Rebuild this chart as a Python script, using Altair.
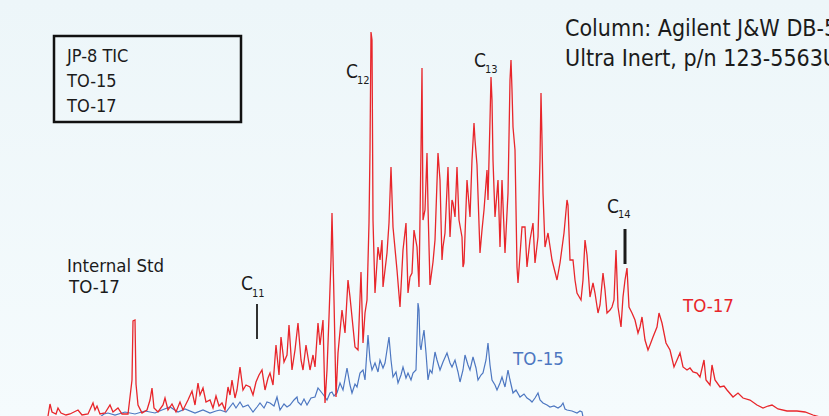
import altair as alt
import pandas as pd

# TO-17 trace (red): retention index vs abundance
red_time = [48, 50, 52, 56, 58, 61, 66, 70, 78, 82, 88, 93, 95, 97, 100, 105, 110, 113, 118, 122,
            128, 132, 133, 135, 136, 138, 142, 147, 150, 152, 154, 158, 163, 165, 168, 172, 176, 180, 183, 188,
            192, 195, 198, 200, 203, 206, 210, 213, 216, 219, 222, 225, 228, 230, 232, 235, 237, 240, 243, 246,
            250, 253, 256, 259, 262, 265, 268, 270, 273, 276, 279, 281, 284, 287, 289, 292, 295, 298, 301, 303,
            306, 310, 313, 315, 318, 320, 323, 325, 327, 329, 331, 332, 334, 336, 338, 342, 345, 348, 350, 352,
            355, 358, 361, 363, 365, 367, 369, 370, 371, 372, 373, 375, 378, 380, 382, 383, 387, 389, 391, 393,
            397, 400, 403, 406, 408, 410, 412, 414, 417, 419, 421, 422, 423, 425, 427, 428, 430, 433, 435, 438,
            440, 442, 443, 445, 448, 450, 452, 453, 455, 457, 459, 462, 463, 464, 467, 470, 472, 474, 475, 477,
            480, 482, 484, 487, 488, 490, 491, 492, 493, 495, 498, 500, 502, 505, 508, 510, 511, 512, 513, 515,
            517, 518, 522, 525, 527, 530, 533, 535, 538, 540, 541, 542, 543, 545, 548, 552, 557, 560, 564, 567,
            568, 570, 573, 575, 577, 581, 583, 585, 587, 590, 593, 595, 598, 600, 603, 605, 607, 610, 612, 614,
            616, 618, 621, 623, 625, 627, 629, 632, 635, 638, 640, 642, 645, 648, 650, 653, 657, 659, 662, 666,
            670, 674, 677, 680, 683, 687, 690, 693, 697, 700, 704, 706, 710, 712, 715, 720, 724, 727, 733, 738,
            743, 750, 757, 763, 768, 772, 778, 787, 797, 805, 813, 820]
red_abund = [0, 12, 4, 2, 8, 3, 1, 2, 6, 1, 2, 13, 6, 10, 2, 3, 11, 4, 8, 2,
             2, 36, 95, 96, 32, 11, 3, 6, 16, 28, 8, 4, 11, 18, 6, 12, 4, 14, 6, 16,
             25, 11, 33, 21, 28, 14, 16, 8, 20, 10, 13, 6, 29, 21, 36, 18, 26, 49, 26, 31,
             29, 21, 34, 41, 46, 26, 38, 43, 31, 71, 41, 79, 54, 61, 91, 46, 66, 93, 56, 46,
             71, 46, 61, 49, 93, 71, 96, 13, 46, 99, 156, 203, 116, 19, 63, 106, 83, 136, 119, 99,
             69, 66, 144, 73, 103, 116, 193, 266, 384, 376, 196, 123, 169, 156, 176, 129, 163, 193, 249, 189,
             146, 109, 166, 193, 123, 139, 143, 186, 169, 129, 266, 348, 196, 206, 263, 209, 131, 154, 176, 263,
             236, 156, 169, 183, 249, 179, 216, 213, 199, 249, 196, 179, 149, 153, 236, 199, 256, 293, 276, 251,
             163, 186, 206, 246, 216, 296, 339, 316, 256, 199, 236, 169, 236, 163, 223, 336, 356, 326, 289, 266,
             149, 133, 189, 189, 149, 176, 193, 153, 179, 256, 323, 276, 223, 169, 183, 156, 136, 153, 183, 216,
             211, 156, 156, 136, 123, 116, 136, 176, 161, 119, 133, 123, 103, 111, 143, 126, 103, 106, 109, 116,
             166, 109, 89, 119, 136, 148, 109, 103, 96, 83, 89, 99, 76, 66, 71, 79, 89, 103, 93, 73,
             66, 49, 56, 63, 49, 46, 48, 44, 43, 39, 56, 36, 31, 51, 36, 29, 30, 26, 19, 23,
             18, 16, 11, 8, 10, 11, 7, 5, 5, 4, 1, -1]

# TO-15 trace (blue)
blue_time = [100, 104, 108, 115, 125, 135, 145, 155, 162, 170, 178, 185, 195, 203, 210, 216, 220, 226, 233, 236,
             240, 243, 248, 253, 257, 260, 264, 267, 270, 274, 277, 280, 284, 287, 290, 294, 297, 298, 301, 304,
             307, 311, 315, 318, 322, 325, 327, 330, 332, 334, 337, 340, 343, 347, 350, 352, 355, 357, 360, 363,
             365, 368, 370, 372, 375, 378, 380, 383, 385, 387, 389, 391, 393, 396, 398, 401, 403, 406, 408, 411,
             413, 416, 418, 419, 420, 421, 422, 424, 426, 428, 430, 432, 435, 437, 440, 443, 447, 450, 452, 455,
             458, 460, 463, 465, 468, 470, 473, 476, 478, 481, 483, 486, 488, 490, 492, 495, 497, 500, 502, 505,
             508, 510, 513, 516, 520, 524, 527, 530, 532, 535, 538, 540, 543, 547, 550, 554, 558, 561, 563, 565,
             567, 572, 577, 580, 582, 583]
blue_abund = [-1, 2, 3, 1, 4, 2, 5, 3, 6, 9, 4, 7, 3, 6, 3, 5, 6, 4, 13, 8,
              14, 9, 11, 4, 9, 13, 8, 14, 13, 10, 19, 6, 12, 9, 11, 16, 19, 14, 11, 17,
              11, 18, 19, 28, 23, 19, 16, 23, 24, 20, 23, 33, 26, 48, 31, 23, 32, 29, 43, 46,
              36, 81, 56, 46, 53, 44, 56, 48, 53, 66, 79, 56, 39, 44, 33, 41, 49, 38, 43, 36,
              43, 46, 113, 106, 71, 66, 74, 86, 63, 36, 46, 43, 64, 56, 46, 54, 63, 53, 49, 56,
              44, 34, 46, 61, 51, 46, 59, 48, 36, 41, 43, 56, 73, 51, 36, 31, 26, 33, 39, 29,
              46, 36, 23, 26, 19, 22, 18, 16, 14, 18, 23, 16, 13, 11, 9, 10, 8, 10, 13, 7,
              6, 5, 3, 5, 4, -1]

legend_lines = ["JP-8 TIC", "TO-15", "TO-17"]
column_lines = ["Column: Agilent J&W DB-5ms", "Ultra Inert, p/n 123-5563UI"]

FONT = "DejaVu Sans Condensed, Liberation Sans Narrow, Arial Narrow, sans-serif"
RED = "#e8262b"
BLUE = "#4d77c1"
INK = "#1b1b1b"

red_df = pd.DataFrame({"time": red_time, "abundance": red_abund})
blue_df = pd.DataFrame({"time": blue_time, "abundance": blue_abund})

xs = alt.Scale(domain=[0, 829], nice=False, zero=False)
ys = alt.Scale(domain=[0, 416], nice=False, zero=False)


def trace(df, color, width):
    return alt.Chart(df).mark_line(color=color, strokeWidth=width, clip=True, interpolate="linear").encode(
        x=alt.X("time:Q", scale=xs, axis=None),
        y=alt.Y("abundance:Q", scale=ys, axis=None),
        order="time:Q",
    )


def label(s, x, y, size, color=INK):
    return alt.Chart(pd.DataFrame({"t": [s]})).mark_text(
        align="left", baseline="alphabetic", fontSize=size, font=FONT, color=color
    ).encode(x=alt.value(x), y=alt.value(y), text="t:N")


one = pd.DataFrame({"k": [0]})

bg = alt.Chart(one).mark_rect(
    color=alt.LinearGradient(
        gradient="linear",
        stops=[alt.GradientStop(color="#edf6f9", offset=0), alt.GradientStop(color="#f5fbfd", offset=1)],
        x1=0, x2=0, y1=0, y2=1,
    )
).encode(x=alt.value(0), x2=alt.value(829), y=alt.value(0), y2=alt.value(416))

box = alt.Chart(one).mark_rect(filled=False, stroke="#111111", strokeWidth=2.5).encode(
    x=alt.value(54), x2=alt.value(241), y=alt.value(36), y2=alt.value(122)
)

c11_tick = alt.Chart(one).mark_rule(color=INK, strokeWidth=1.8).encode(
    x=alt.value(257), y=alt.value(304), y2=alt.value(339)
)
c14_tick = alt.Chart(one).mark_rule(color=INK, strokeWidth=3).encode(
    x=alt.value(625), y=alt.value(229), y2=alt.value(264)
)

texts = [
    label(legend_lines[0], 67, 62, 18),
    label(legend_lines[1], 67, 87, 18),
    label(legend_lines[2], 67, 112, 18),
    label(column_lines[0], 565, 36, 23),
    label(column_lines[1], 565, 66, 23),
    label("Internal Std", 67, 272, 18.5),
    label("TO-17", 69, 293, 18.5),
    label("C", 241, 290, 19), label("11", 252, 297, 11),
    label("C", 346, 78, 19), label("12", 357, 84, 11),
    label("C", 474, 67, 19), label("13", 485, 73, 11),
    label("C", 607, 213, 19), label("14", 618, 218, 11),
    label("TO-17", 683, 312, 18.5, RED),
    label("TO-15", 513, 365, 18.5, BLUE),
]

chart = alt.layer(
    bg, trace(blue_df, BLUE, 1.2), trace(red_df, RED, 1.3), box, c11_tick, c14_tick, *texts
).properties(
    width=829, height=416, padding=0, autosize=alt.AutoSizeParams(type="none"), background="#f0f8fb"
).configure_view(stroke=None)

chart.save("out.html", embed_options={"renderer": "svg", "actions": False})
